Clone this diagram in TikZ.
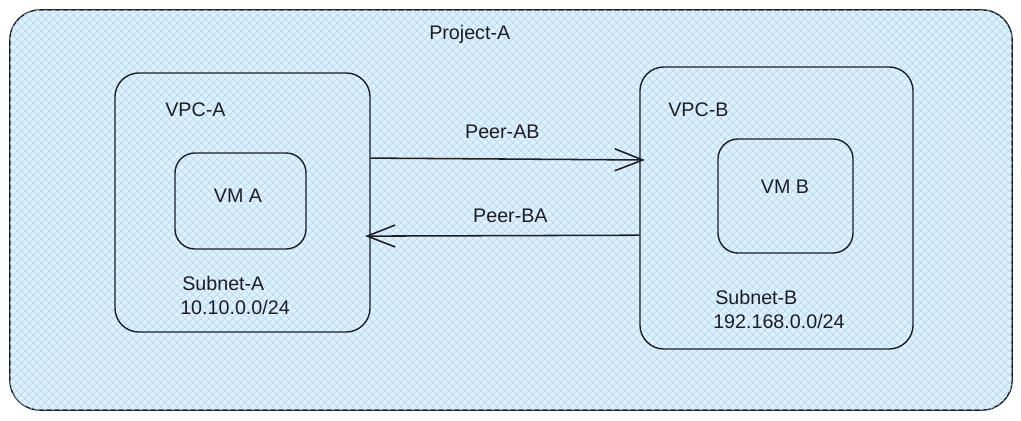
\documentclass[tikz,border=0pt]{standalone}
\usepackage{fontspec}
\setmainfont{Liberation Sans}
\usetikzlibrary{positioning,arrows.meta,patterns.meta}

\definecolor{ink}{RGB}{30,30,30}
\definecolor{hatchbg}{RGB}{226,241,253}
\definecolor{hatch}{RGB}{176,218,250}

\tikzset{
  sketchbox/.style={rectangle,draw=ink,line width=1pt,rounded corners=#1},
  sketchbox/.default=0.55cm,
  lbl/.style={text=ink,font=\fontsize{14}{17}\selectfont,inner sep=0pt},
  peer/.style={draw=ink,line width=1.1pt,-{Straight Barb[length=7mm,width=5.5mm,line width=1.1pt]}}
}

\begin{document}
\begin{tikzpicture}[x=0.025cm,y=-0.025cm]
      \useasboundingbox (0,0) rectangle (1021,421);

      %project area
      \node[sketchbox=0.75cm,minimum width=25.05cm,minimum height=10cm,fill=hatchbg,
        postaction={pattern={Lines[angle=45,distance=4pt,line width=0.6pt]},pattern color=hatch},
        postaction={pattern={Lines[angle=-45,distance=4pt,line width=0.6pt]},pattern color=hatch}]
        (project) at (511,210) {};
      \node[lbl,anchor=west] (projectlbl) at (429,34) {Project-A};

      %vpc a
      \node[sketchbox=0.6cm,minimum width=6.375cm,minimum height=6.475cm] (vpcA) at (242.5,202.5) {};
      \node[lbl,anchor=west] (vpcAlbl) at (165,110) {VPC-A};
      \node[sketchbox=0.5cm,minimum width=3.275cm,minimum height=2.4cm] (vmA) at (240.5,201) {};
      \node[lbl] (vmAlbl) at (238,196) {VM A};
      \node[lbl,anchor=west] (subnetA) at (182,283) {Subnet-A};
      \node[lbl,anchor=west] (cidrA) at (180,307) {10.10.0.0/24};

      %vpc b
      \node[sketchbox=0.6cm,minimum width=6.825cm,minimum height=7.05cm] (vpcB) at (776.5,208) {};
      \node[lbl,anchor=west] (vpcBlbl) at (668,110) {VPC-B};
      \node[sketchbox=0.5cm,minimum width=3.375cm,minimum height=2.85cm] (vmB) at (785.5,196) {};
      \node[lbl] (vmBlbl) at (785,187) {VM B};
      \node[lbl,anchor=west] (subnetB) at (715,297) {Subnet-B};
      \node[lbl,anchor=west] (cidrB) at (713,321) {192.168.0.0/24};

      %peerings
      \draw[peer] ([yshift=1.11cm]vpcA.east) -- ([yshift=1.2cm,xshift=4pt]vpcB.west)
        node[lbl,pos=0.48,above=0.5cm] (peerAB) {Peer-AB};
      \draw[peer] ([yshift=-0.68cm]vpcB.west) -- ([yshift=-0.84cm,xshift=-4pt]vpcA.east)
        node[lbl,pos=0.47,above=0.3cm] (peerBA) {Peer-BA};
    \end{tikzpicture}
\end{document}
